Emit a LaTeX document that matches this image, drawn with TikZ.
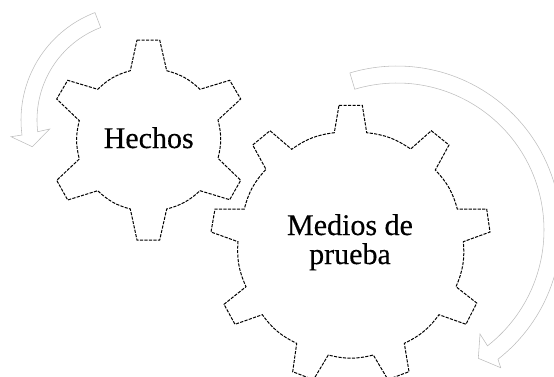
\documentclass[tikz,border=0pt]{standalone}
\usepackage{fontspec}
\setmainfont[FakeBold=0.35]{Liberation Serif}
\tikzset{
  gearline/.style={draw=black,line width=1pt,dash pattern=on 3.2pt off 1.3pt,line join=miter},
  turnarrow/.style={draw=black!26,line width=0.55pt,line join=miter},
  geartext/.style={font=\fontsize{30}{30}\bfseries\selectfont,anchor=base,inner sep=0pt},
  bb/.style={bend left=14}
}
\begin{document}
\begin{tikzpicture}[x=1pt,y=-1pt]
\useasboundingbox (0,0) rectangle (554,376);
\clip (0,0) rectangle (554,376);
% small arrow
\draw[turnarrow] plot[domain=249.1:172.5,samples=40] ({136+115*cos(\x)},{120+115*sin(\x)})
  -- (11,136.7) -- (32.3,146.7) -- (49.7,129)
  -- plot[domain=173.2:249.1,samples=40] ({136+99*cos(\x)},{120+99*sin(\x)}) -- cycle;
% large arrow
\draw[turnarrow] plot[domain=-106.7:52,samples=80] ({397+164*cos(\x)},{230+164*sin(\x)})
  -- (500.7,367.7) -- (478.3,358.3) -- (480,334)
  -- plot[domain=52:-106.7,samples=80] ({397+147*cos(\x)},{230+147*sin(\x)}) -- cycle;
% gear 1
\draw[gearline] (137,40) -- (159.7,40) -- (166.7,70.7) to[bb] (200,89.3) -- (229.7,80.3) -- (240.7,99)
 -- (218,120) to[bb] (218,158.3) -- (240.7,180.3) -- (229.7,199.7) -- (200,190.7) to[bb] (166.7,209)
 -- (159.7,240) -- (137,240) -- (130.3,209) to[bb] (97.7,190.7) -- (67.7,200) -- (56.7,180.3)
 -- (79.3,159) to[bb] (79.3,120.7) -- (56.7,99) -- (67.7,80.3) -- (97.7,89.3) to[bb] (130.3,70.7) -- cycle;
% gear 2
\draw[gearline] (339,105.3) -- (362.3,105.3) -- (366.7,132.7) to[bb] (410.7,149) -- (431.3,130.7) -- (449,145)
 -- (435.3,170) to[bb] (457.3,209) -- (486.7,209) -- (490,232) -- (463.3,241.7) to[bb] (456,286.7)
 -- (476.7,303) -- (466,324.3) -- (439,314.7) to[bb] (404.3,343.3) -- (409,371.7) -- (392,378) -- (387,378)
 -- (373.3,355) to[bb] (328.3,355) -- (314.5,378) -- (309,378) -- (292.7,371.7) -- (296.7,343.3)
 to[bb] (262.3,314.7) -- (235,324.3) -- (224,304.3) -- (246,286.7) to[bb] (238,241.7) -- (211,232)
 -- (215,209) -- (244.3,209) to[bb] (266,169.3) -- (252.7,145) -- (270,130.7) -- (291.7,149.3)
 to[bb] (334.3,132.7) -- cycle;
% labels
\node[geartext,font=\fontsize{30}{30}\selectfont] (hechos) at (148.7,148) {Hechos};
\node[geartext,font=\fontsize{30}{30}\selectfont] (medios) at (350,235) {Medios de};
\node[geartext,font=\fontsize{30}{30}\selectfont] (prueba) at (350,264) {prueba};
\end{tikzpicture}
\end{document}
